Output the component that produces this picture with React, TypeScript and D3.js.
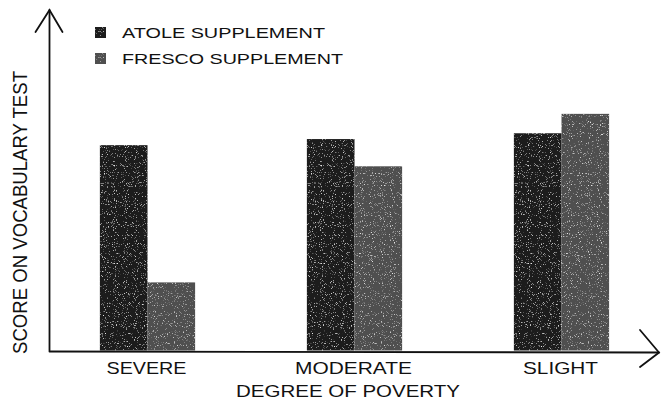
import * as d3 from 'd3'

const categories = ['SEVERE', 'MODERATE', 'SLIGHT']
const seriesNames = ['ATOLE SUPPLEMENT', 'FRESCO SUPPLEMENT']
const atoleScores = [60.3, 62.1, 63.8]
const frescoScores = [20.0, 54.1, 69.5]

const SERIES_COLORS = ['#1c1c1c', '#505050']
const FONT = '"Liberation Sans", Arial, Helvetica, sans-serif'

// the scan is stretched sideways, so text widths are forced to match
const CATEGORY_WIDTHS: Record<string, number> = { SEVERE: 80, MODERATE: 117, SLIGHT: 75 }
const LEGEND_WIDTHS = [203, 221]

export default function App() {
  const width = 661
  const height = 402
  const axisX = 49.5
  const baseY = 350.5
  const topY = 10

  const x = d3
    .scaleBand<string>()
    .domain(categories)
    .range([44, 665])
    .paddingInner(0.54)
    .paddingOuter(0.27)
  const xSub = d3
    .scaleBand<string>()
    .domain(seriesNames)
    .range([0, x.bandwidth()])
  const y = d3.scaleLinear().domain([0, 100]).range([baseY, topY])

  const series = [atoleScores, frescoScores]

  return (
    <svg
      width={width}
      height={height}
      viewBox={`0 0 ${width} ${height}`}
      style={{ position: 'fixed', left: 0, top: 0, background: '#fff' }}
      fontFamily={FONT}
    >
      <defs>
        <filter id="grain" x="0" y="0" width="100%" height="100%">
          <feTurbulence type="fractalNoise" baseFrequency="0.9" numOctaves="2" seed="3" result="noise" />
          <feColorMatrix
            in="noise"
            type="matrix"
            values="0 0 0 0 1  0 0 0 0 1  0 0 0 0 1  0 0 0 3.2 -2.0"
            result="specks"
          />
          <feComposite in="specks" in2="SourceGraphic" operator="in" result="clipped" />
          <feMerge>
            <feMergeNode in="SourceGraphic" />
            <feMergeNode in="clipped" />
          </feMerge>
        </filter>
      </defs>

      {/* bars */}
      {categories.map((cat, ci) => (
        <g key={cat} transform={`translate(${x(cat)},0)`}>
          {seriesNames.map((name, si) => {
            const v = series[si][ci]
            return (
              <rect
                key={name}
                x={xSub(name)}
                y={y(v)}
                width={xSub.bandwidth()}
                height={baseY - y(v)}
                fill={SERIES_COLORS[si]}
                filter="url(#grain)"
              />
            )
          })}
        </g>
      ))}

      {/* axes */}
      <g stroke="#111" fill="none" strokeWidth={1.8} strokeLinecap="round">
        <line x1={axisX} x2={axisX} y1={baseY} y2={topY} />
        <polyline points={`${axisX - 14},${topY + 22} ${axisX},${topY} ${axisX + 13},${topY + 22}`} />
        <line x1={axisX} x2={659} y1={baseY + 1} y2={baseY + 2} />
        <polyline points={`640,330 659,${baseY + 2} 640,367`} />
      </g>

      {/* category labels */}
      {categories.map(cat => {
        const w = CATEGORY_WIDTHS[cat]
        const cx = (x(cat) ?? 0) + x.bandwidth() / 2 - 1
        return (
          <text
            key={cat}
            x={cx - w / 2}
            y={374}
            fontSize={16.5}
            fill="#111"
            textLength={w}
            lengthAdjust="spacingAndGlyphs"
          >
            {cat}
          </text>
        )
      })}
      <text
        x={236}
        y={397}
        fontSize={16.5}
        fill="#111"
        textLength={224}
        lengthAdjust="spacingAndGlyphs"
      >
        DEGREE OF POVERTY
      </text>

      {/* y label */}
      <text
        transform="translate(27,354) rotate(-90)"
        fontSize={21}
        fill="#111"
        textLength={283}
        lengthAdjust="spacingAndGlyphs"
      >
        SCORE ON VOCABULARY TEST
      </text>

      {/* legend */}
      {seriesNames.map((name, i) => (
        <g key={name} transform={`translate(95,${27 + i * 26})`}>
          <rect width={11} height={11} fill={SERIES_COLORS[i]} filter="url(#grain)" />
          <text
            x={27}
            y={10.5}
            fontSize={14.5}
            fill="#111"
            textLength={LEGEND_WIDTHS[i]}
            lengthAdjust="spacingAndGlyphs"
          >
            {name}
          </text>
        </g>
      ))}
    </svg>
  )
}
